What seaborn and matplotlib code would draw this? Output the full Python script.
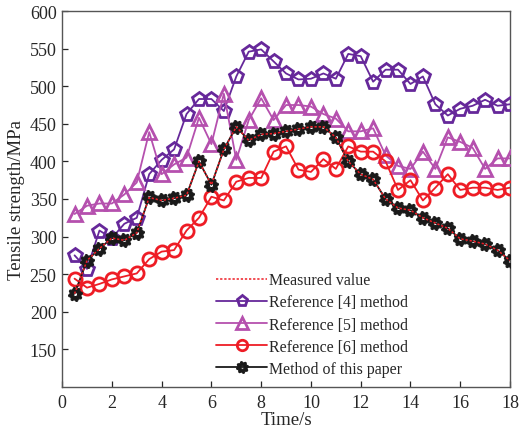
import numpy as np
import pandas as pd
import matplotlib
matplotlib.use("Agg")
import matplotlib.pyplot as plt
from matplotlib.path import Path
from matplotlib.lines import Line2D
import seaborn as sns

# Sampling times (s)
time_s = [0.5, 1.0, 1.5, 2.0, 2.5, 3.0, 3.5, 4.0, 4.5, 5.0, 5.5, 6.0,
          6.5, 7.0, 7.5, 8.0, 8.5, 9.0, 9.5, 10.0, 10.5, 11.0, 11.5, 12.0,
          12.5, 13.0, 13.5, 14.0, 14.5, 15.0, 15.5, 16.0, 16.5, 17.0, 17.5, 18.0]

# Tensile strength (MPa)
measured = [224, 268, 284, 298, 295, 305, 352, 348, 351, 355, 400, 369,
            416, 446, 428, 436, 437, 440, 443, 446, 446, 432, 400, 383,
            376, 350, 338, 335, 325, 318, 311, 297, 294, 290, 282, 268]
ref4 = [275, 257, 308, 298, 317, 325, 383, 402, 416, 463, 483, 483,
        467, 513, 546, 549, 533, 517, 509, 510, 517, 510, 543, 540,
        506, 522, 522, 503, 513, 476, 461, 470, 474, 482, 474, 476]
ref5 = [330, 341, 344, 344, 356, 372, 439, 383, 396, 405, 458, 423,
        490, 402, 455, 484, 455, 475, 475, 473, 463, 457, 440, 440,
        444, 408, 394, 390, 413, 390, 432, 426, 418, 390, 404, 404]
ref6 = [244, 232, 237, 243, 247, 251, 270, 280, 282, 308, 325, 353,
        348, 373, 378, 378, 413, 420, 389, 386, 403, 390, 420, 413,
        413, 400, 362, 375, 348, 365, 383, 362, 365, 365, 362, 365]
proposed = [224, 268, 284, 298, 295, 305, 352, 348, 351, 355, 400, 369,
            416, 446, 428, 436, 437, 440, 443, 446, 446, 432, 400, 383,
            376, 350, 338, 335, 325, 318, 311, 297, 294, 290, 282, 268]

labels = ["Measured value", "Reference [4] method", "Reference [5] method",
          "Reference [6] method", "Method of this paper"]
x_ticks = [0, 2, 4, 6, 8, 10, 12, 14, 16, 18]
y_ticks = [150, 200, 250, 300, 350, 400, 450, 500, 550, 600]


def gear_marker(teeth=8, r_out=1.0, r_in=0.80, r_hole=0.30):
    """Cog-wheel shaped marker with a hollow centre."""
    verts = []
    n = teeth * 4
    for k in range(n):
        ang = 2 * np.pi * (k + 0.5) / n
        r = r_out if (k % 4) in (0, 1) else r_in
        verts.append((r * np.cos(ang), r * np.sin(ang)))
    codes = [Path.MOVETO] + [Path.LINETO] * (n - 1)
    verts.append(verts[0])
    codes.append(Path.CLOSEPOLY)
    m = 24
    hole = [(r_hole * np.cos(-2 * np.pi * k / m), r_hole * np.sin(-2 * np.pi * k / m))
            for k in range(m)]
    verts += hole + [hole[0]]
    codes += [Path.MOVETO] + [Path.LINETO] * (m - 1) + [Path.CLOSEPOLY]
    return Path(verts, codes)


sns.set_style("ticks")
plt.rcParams["font.family"] = ["Liberation Serif", "DejaVu Serif"]
plt.rcParams["xtick.direction"] = "in"
plt.rcParams["ytick.direction"] = "in"

fig = plt.figure(figsize=(5.22, 4.31), dpi=100)
ax = fig.add_axes([0.119, 0.100, 0.858, 0.872])

df = pd.DataFrame({"time": time_s, "measured": measured, "ref4": ref4,
                   "ref5": ref5, "ref6": ref6, "proposed": proposed})

c_ref4 = "#66289a"
c_ref5 = "#b550ae"
c_ref6 = "#ee1c25"
c_prop = "#1a1a1a"
c_meas = "#ee1c25"
gear = gear_marker()

sns.lineplot(data=df, x="time", y="ref4", ax=ax, color=c_ref4, lw=1.3,
             marker="p", markersize=10, markeredgewidth=2.0,
             markerfacecolor="none", markeredgecolor=c_ref4, zorder=3)
sns.lineplot(data=df, x="time", y="ref5", ax=ax, color=c_ref5, lw=1.3,
             marker="^", markersize=10, markeredgewidth=2.0,
             markerfacecolor="none", markeredgecolor=c_ref5, zorder=3)
sns.lineplot(data=df, x="time", y="ref6", ax=ax, color=c_ref6, lw=1.3,
             marker="o", markersize=9.5, markeredgewidth=2.0,
             markerfacecolor="none", markeredgecolor=c_ref6, zorder=3)
sns.lineplot(data=df, x="time", y="proposed", ax=ax, color=c_prop, lw=1.3,
             marker=gear, markersize=10, markeredgewidth=0.8,
             markerfacecolor=c_prop, markeredgecolor=c_prop, zorder=4)
sns.lineplot(data=df, x="time", y="measured", ax=ax, color=c_meas, lw=1.1,
             linestyle=(0, (1.5, 1.2)), zorder=5)

ax.set_xlim(0, 18)
ax.set_ylim(100, 600)
ax.set_xticks(x_ticks)
ax.set_yticks(y_ticks)
ax.tick_params(axis="both", labelsize=13, length=4, width=0.9,
               top=False, right=False, pad=4)
ax.tick_params(axis="x", pad=5)
for sp in ax.spines.values():
    sp.set_visible(True)
    sp.set_color("#555555")
    sp.set_linewidth(1.0)
ax.set_xlabel("Time/s", fontsize=13.5, labelpad=0)
ax.set_ylabel("Tensile strength/MPa", fontsize=13.5, labelpad=3)

handles = [
    Line2D([], [], color=c_meas, lw=1.1, linestyle=(0, (1.5, 1.2))),
    Line2D([], [], color=c_ref4, lw=1.3, marker="p", markersize=8,
           markeredgewidth=2.0, markerfacecolor="none"),
    Line2D([], [], color=c_ref5, lw=1.3, marker="^", markersize=8,
           markeredgewidth=2.0, markerfacecolor="none"),
    Line2D([], [], color=c_ref6, lw=1.3, marker="o", markersize=7.5,
           markeredgewidth=2.0, markerfacecolor="none"),
    Line2D([], [], color=c_prop, lw=1.3, marker=gear, markersize=8.5,
           markeredgewidth=0.8, markerfacecolor=c_prop),
]
ax.legend(handles, labels, loc="upper left", bbox_to_anchor=(0.344, 0.305),
          frameon=False, fontsize=11.4, handlelength=3.2, handletextpad=0.15,
          labelspacing=0.39, borderaxespad=0, borderpad=0)

fig.savefig("out.png", dpi=100)
